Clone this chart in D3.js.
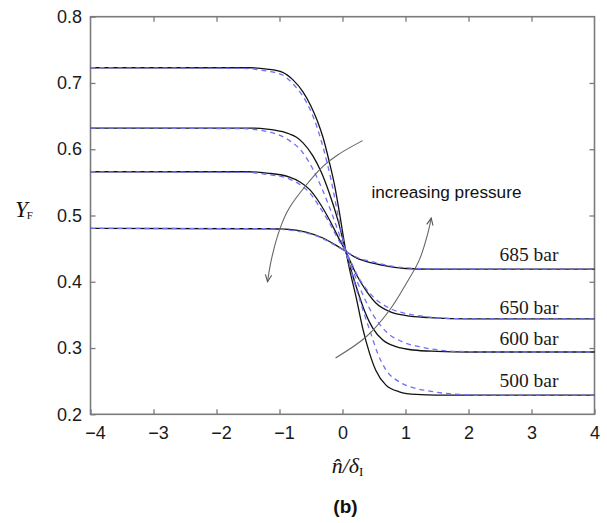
<!DOCTYPE html>
<html>
<head>
<meta charset="utf-8">
<script src="https://cdn.jsdelivr.net/npm/d3@7"></script>
<style>
  html, body { margin: 0; padding: 0; background: #fff; }
  svg { display: block; }
</style>
</head>
<body>
<svg id="chart" width="607" height="523"></svg>
<script>
// Fuel mass fraction Y_F across the interface for four pressures:
// solid = model profile, dashed = reference profile.
const pressures = ["685 bar", "650 bar", "600 bar", "500 bar"];

const solid685 = [[-4,0.4805],[-1.2,0.480],[-0.84,0.479],[-0.58,0.475],[-0.31,0.466],[-0.1,0.455],[0.05,0.446],[0.22,0.436],[0.48,0.428],[0.75,0.423],[1.01,0.420],[1.38,0.419],[4,0.419]];
const dashed685 = [[-4,0.4805],[-1.2,0.480],[-0.84,0.478],[-0.58,0.474],[-0.31,0.465],[-0.1,0.454],[0.05,0.446],[0.22,0.437],[0.48,0.430],[0.75,0.424],[1.01,0.421],[1.38,0.4195],[4,0.419]];

const solid650 = [[-4,0.566],[-1.5,0.566],[-1.2,0.564],[-0.84,0.558],[-0.68,0.551],[-0.52,0.539],[-0.37,0.520],[-0.21,0.494],[-0.05,0.464],[0.05,0.446],[0.22,0.411],[0.38,0.386],[0.53,0.368],[0.75,0.355],[1.01,0.349],[1.38,0.346],[2,0.344],[4,0.344]];
const dashed650 = [[-4,0.566],[-1.5,0.565],[-1.2,0.562],[-0.84,0.555],[-0.68,0.547],[-0.52,0.534],[-0.37,0.514],[-0.21,0.489],[-0.05,0.461],[0.05,0.446],[0.27,0.404],[0.48,0.378],[0.75,0.360],[1.01,0.352],[1.27,0.348],[1.6,0.345],[2.2,0.344],[4,0.344]];

const solid600 = [[-4,0.632],[-1.5,0.632],[-1.2,0.6305],[-0.95,0.6265],[-0.84,0.623],[-0.73,0.618],[-0.63,0.610],[-0.47,0.590],[-0.34,0.566],[-0.21,0.534],[-0.07,0.492],[0.05,0.447],[0.12,0.423],[0.22,0.392],[0.35,0.356],[0.48,0.330],[0.64,0.312],[0.85,0.302],[1.12,0.297],[1.5,0.295],[2,0.294],[4,0.294]];
const dashed600 = [[-4,0.632],[-1.6,0.631],[-1.21,0.627],[-0.95,0.619],[-0.84,0.613],[-0.63,0.595],[-0.47,0.570],[-0.31,0.537],[-0.15,0.498],[0,0.458],[0.05,0.446],[0.16,0.418],[0.32,0.381],[0.48,0.351],[0.69,0.325],[0.96,0.309],[1.22,0.302],[1.38,0.299],[1.8,0.295],[2.3,0.294],[4,0.294]];

const solid500 = [[-4,0.723],[-1.5,0.723],[-1.2,0.721],[-0.95,0.716],[-0.79,0.705],[-0.63,0.687],[-0.5,0.665],[-0.4,0.643],[-0.31,0.618],[-0.21,0.581],[-0.12,0.543],[-0.05,0.505],[0.05,0.448],[0.11,0.420],[0.22,0.375],[0.32,0.330],[0.43,0.292],[0.53,0.266],[0.69,0.244],[0.9,0.234],[1.17,0.230],[1.5,0.229],[4,0.229]];
const dashed500 = [[-4,0.723],[-1.6,0.722],[-1.2,0.718],[-0.95,0.712],[-0.79,0.699],[-0.63,0.680],[-0.5,0.657],[-0.4,0.632],[-0.3,0.600],[-0.18,0.553],[-0.05,0.490],[0.05,0.447],[0.15,0.412],[0.25,0.380],[0.35,0.350],[0.45,0.322],[0.55,0.294],[0.69,0.267],[0.9,0.249],[1.17,0.239],[1.38,0.235],[1.7,0.231],[2.2,0.229],[4,0.229]];

const solidSeries = [solid685, solid650, solid600, solid500];
const dashedSeries = [dashed685, dashed650, dashed600, dashed500];

const xTicks = [-4, -3, -2, -1, 0, 1, 2, 3, 4];
const yTicks = [0.2, 0.3, 0.4, 0.5, 0.6, 0.7, 0.8];

// ---- layout ----
const svg = d3.select("#chart");
const plot = { left: 90.5, right: 594.5, top: 16.7, bottom: 414.3 };

const x = d3.scaleLinear().domain([-4, 4]).range([plot.left, plot.right]);
const y = d3.scaleLinear().domain([0.2, 0.8]).range([plot.bottom, plot.top]);

const frameColor = "#7b7b7b";
const sans = "'Liberation Sans', Arial, Helvetica, sans-serif";
const serif = "'Liberation Serif', 'Times New Roman', serif";

// Inward ticks on all four sides
const tickLen = 5;
function styleAxis(g) {
  g.select(".domain").remove();
  g.selectAll(".tick line").attr("stroke", frameColor).attr("stroke-width", 1.3);
}

svg.append("g")
  .attr("transform", `translate(0,${plot.bottom})`)
  .call(d3.axisBottom(x).tickValues(xTicks).tickSize(-tickLen).tickPadding(11.5)
    .tickFormat(d => d < 0 ? "\u2212" + Math.abs(d) : String(d)))
  .call(styleAxis)
  .call(g => g.selectAll("text")
    .attr("font-family", sans).attr("font-size", 18).attr("fill", "#1a1a1a")
    .attr("dx", d => d < 0 ? 4.5 : 0));

svg.append("g")
  .attr("transform", `translate(0,${plot.top})`)
  .call(d3.axisTop(x).tickValues(xTicks.slice(1, -1)).tickSize(-tickLen).tickFormat(""))
  .call(styleAxis);

svg.append("g")
  .attr("transform", `translate(${plot.left},0)`)
  .call(d3.axisLeft(y).tickValues(yTicks).tickSize(-tickLen).tickPadding(8.5)
    .tickFormat(d3.format(".1f")))
  .call(styleAxis)
  .call(g => g.selectAll("text")
    .attr("font-family", sans).attr("font-size", 18).attr("fill", "#1a1a1a"));

svg.append("g")
  .attr("transform", `translate(${plot.right},0)`)
  .call(d3.axisRight(y).tickValues(yTicks.slice(1, -1)).tickSize(-tickLen).tickFormat(""))
  .call(styleAxis);

// Frame
svg.append("rect")
  .attr("x", plot.left).attr("y", plot.top)
  .attr("width", plot.right - plot.left).attr("height", plot.bottom - plot.top)
  .attr("fill", "none").attr("stroke", frameColor).attr("stroke-width", 1.6);

// ---- profiles ----
const line = d3.line()
  .x(d => x(d[0]))
  .y(d => y(d[1]))
  .curve(d3.curveMonotoneX);

const curves = svg.append("g");
curves.selectAll("path.solid")
  .data(solidSeries)
  .join("path")
  .attr("class", "solid")
  .attr("d", line)
  .attr("fill", "none")
  .attr("stroke", "#111")
  .attr("stroke-width", 1.3);

curves.selectAll("path.dashed")
  .data(dashedSeries)
  .join("path")
  .attr("class", "dashed")
  .attr("d", line)
  .attr("fill", "none")
  .attr("stroke", "#7070f6")
  .attr("stroke-width", 1.3)
  .attr("stroke-dasharray", "5,4");

// Pressure labels above each right-hand plateau
const labelLift = [8, 4.5, 7.5, 8];
svg.append("g").selectAll("text")
  .data(pressures)
  .join("text")
  .attr("x", x(4) - 36)
  .attr("y", (d, i) => {
    const s = solidSeries[i];
    return y(s[s.length - 1][1]) - labelLift[i];
  })
  .attr("text-anchor", "end")
  .attr("font-family", serif)
  .attr("font-size", 19.5)
  .attr("fill", "#1a1a1a")
  .text(d => d);

// ---- "increasing pressure" arrows ----
const defs = svg.append("defs");
defs.append("marker")
  .attr("id", "openArrow")
  .attr("viewBox", "-8 -5 10 10")
  .attr("refX", 0).attr("refY", 0)
  .attr("markerWidth", 10).attr("markerHeight", 10)
  .attr("markerUnits", "userSpaceOnUse")
  .attr("orient", "auto")
  .append("path")
  .attr("d", "M-7,-3.2 L0,0 L-7,3.2")
  .attr("fill", "none")
  .attr("stroke", "#555")
  .attr("stroke-width", 1.1);

const arcLeft = [[0.32,0.613],[-0.05,0.593],[-0.31,0.574],[-0.84,0.512],[-1.0,0.478],[-1.13,0.433],[-1.19,0.400]];
const arcRight = [[-0.11,0.285],[0.376,0.317],[0.746,0.357],[1.01,0.397],[1.22,0.433],[1.354,0.473],[1.408,0.496]];

const arcLine = d3.line()
  .x(d => x(d[0]))
  .y(d => y(d[1]))
  .curve(d3.curveCatmullRom.alpha(0.5));

svg.append("g").selectAll("path")
  .data([arcLeft, arcRight])
  .join("path")
  .attr("d", arcLine)
  .attr("fill", "none")
  .attr("stroke", "#666")
  .attr("stroke-width", 1.1)
  .attr("marker-end", "url(#openArrow)");

svg.append("text")
  .attr("x", x(0.46))
  .attr("y", y(0.527))
  .attr("font-family", sans)
  .attr("font-size", 17.2)
  .attr("fill", "#111")
  .text("increasing pressure");

// ---- axis titles ----
const yTitle = svg.append("text")
  .attr("x", 15)
  .attr("y", y(0.5) + 1)
  .attr("font-family", serif)
  .attr("fill", "#111");
yTitle.append("tspan").attr("font-style", "italic").attr("font-size", 23).text("Y");
yTitle.append("tspan").attr("font-size", 11).attr("dx", -1).attr("dy", 2).text("F");

const xTitle = svg.append("text")
  .attr("x", x(0) + 5)
  .attr("y", 473)
  .attr("text-anchor", "middle")
  .attr("font-family", serif)
  .attr("fill", "#111");
xTitle.append("tspan").attr("font-style", "italic").attr("font-size", 22).text("n\u0302/\u03b4");
xTitle.append("tspan").attr("font-size", 13).attr("dy", 3).text("I");

svg.append("text")
  .attr("x", x(0) + 3)
  .attr("y", 513)
  .attr("text-anchor", "middle")
  .attr("font-family", sans)
  .attr("font-weight", "bold")
  .attr("font-size", 19)
  .attr("fill", "#111")
  .text("(b)");
</script>
</body>
</html>
